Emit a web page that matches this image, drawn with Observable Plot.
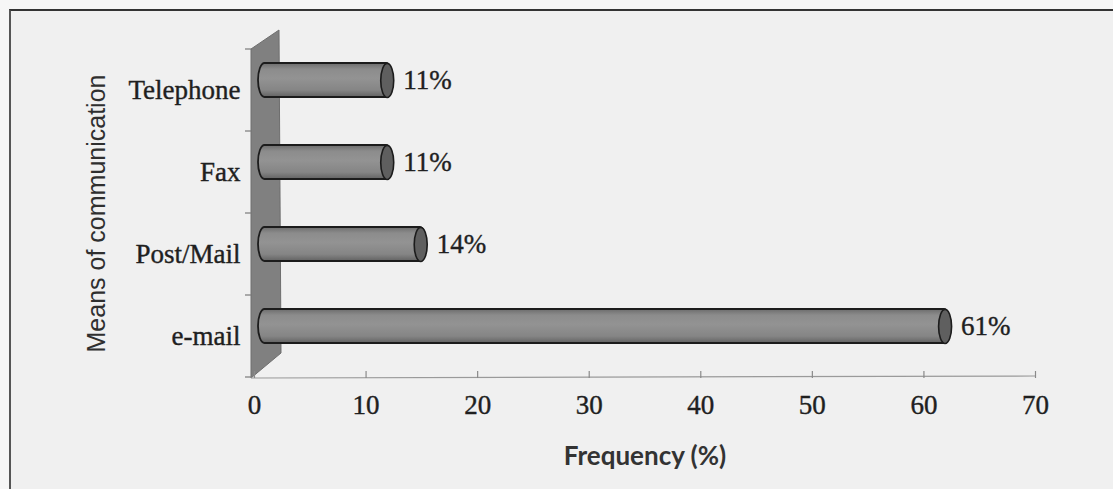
<!DOCTYPE html>
<html>
<head>
<meta charset="utf-8">
<script src="https://cdn.jsdelivr.net/npm/d3@7"></script>
<script src="https://cdn.jsdelivr.net/npm/@observablehq/plot@0.6"></script>
<style>
  html, body { margin: 0; padding: 0; background: #f6f6f6; }
  #wrap { position: relative; width: 1113px; height: 489px; overflow: hidden; background: #f6f6f6; }
  #border { position: absolute; left: 9px; top: 9px; width: 1200px; height: 600px;
            border-top: 2px solid #333; border-left: 2px solid #555; background: #f0f0f0; }
  #chart { position: absolute; left: 0; top: 0; }
</style>
</head>
<body>
<div id="wrap">
  <div id="border"></div>
  <div id="chart"></div>
</div>
<script>
// Means of communication and their share of responses (%)
const means = ["Telephone", "Fax", "Post/Mail", "e-mail"];
const shares = [11, 11, 14, 61];
const xTicks = [0, 10, 20, 30, 40, 50, 60, 70];
const xTitle = "Frequency (%)";
const yTitle = "Means of communication";

const rows = means.map((m, i) => ({means: m, share: shares[i]}));

// Elliptical end face of a cylinder, drawn with Bézier arcs
const capSymbol = {
  draw(ctx) {
    const rx = 6.5, ry = 17, k = 0.5523;
    ctx.moveTo(rx, 0);
    ctx.bezierCurveTo(rx, ry * k, rx * k, ry, 0, ry);
    ctx.bezierCurveTo(-rx * k, ry, -rx, ry * k, -rx, 0);
    ctx.bezierCurveTo(-rx, -ry * k, -rx * k, -ry, 0, -ry);
    ctx.bezierCurveTo(rx * k, -ry, rx, -ry * k, rx, 0);
    ctx.closePath();
  }
};

// Shading of the cylinder bodies
function gradients() {
  const defs = d3.create("svg:defs");
  const g = defs.append("linearGradient").attr("id", "cyl")
    .attr("x1", 0).attr("y1", 0).attr("x2", 0).attr("y2", 1);
  [[0, "#6c6c6c"], [0.18, "#8c8c8c"], [0.45, "#939393"], [0.8, "#858585"], [1, "#626262"]]
    .forEach(([o, c]) => g.append("stop").attr("offset", o).attr("stop-color", c));
  return defs.node();
}

// Back wall of the 3-D plot area, category ticks and the floor edge
function wall(index, scales, values, dims) {
  const x = scales.x, y = scales.y;
  const x0 = x(0);
  const top = dims.marginTop, bottom = dims.height - dims.marginBottom;
  const g = d3.create("svg:g");
  g.append("path")
    .attr("d", `M${x0 - 3},${top}L${x0 + 25},${top - 19}L${x0 + 27},${bottom - 24}L${x0 - 3},${bottom + 1}Z`)
    .attr("fill", "#808080").attr("stroke", "#6e6e6e");
  g.append("line")
    .attr("x1", x0 - 3).attr("x2", x(70)).attr("y1", bottom + 1).attr("y2", bottom - 1)
    .attr("stroke", "#9a9a9a").attr("stroke-width", 1.2);
  const bw = y.bandwidth ? y.bandwidth() : (bottom - top) / means.length;
  const edges = means.map(m => y(m)).concat([y(means[means.length - 1]) + bw]);
  edges.forEach(e => g.append("line")
    .attr("x1", x0 - 9).attr("x2", x0 - 3).attr("y1", e).attr("y2", e)
    .attr("stroke", "#7a7a7a").attr("stroke-width", 1.2));
  return g.node();
}

const serif = "Liberation Serif, Times New Roman, serif";
const ink = "#1f1f1f";

const chart = Plot.plot({
  width: 1113,
  height: 489,
  marginLeft: 254,
  marginRight: 78,
  marginTop: 49,
  marginBottom: 112,
  style: {background: "transparent", overflow: "visible"},
  x: {domain: [0, 70], axis: null},
  y: {domain: means, axis: null, padding: 0},
  marks: [
    gradients,
    wall,
    Plot.tickX(xTicks, {x: d => d, insetTop: 322, insetBottom: -1, stroke: "#8a8a8a", strokeWidth: 1.2}),
    Plot.barX(rows, {
      x: "share", y: "means", dx: 4, dy: -10,
      insetRight: -12, insetTop: 24, insetBottom: 24, rx: 6.5, ry: 17,
      fill: "url(#cyl)", stroke: "#1c1c1c", strokeWidth: 1.8
    }),
    Plot.dot(rows, {
      x: "share", y: "means", dx: 10, dy: -10, r: 5, symbol: capSymbol,
      fill: "#5f5f5f", stroke: "#1c1c1c", strokeWidth: 1.6
    }),
    Plot.text(rows, {
      x: "share", y: "means", text: d => `${d.share}%`, dx: 26, dy: -10,
      textAnchor: "start", fontSize: 27, fontFamily: serif, fill: ink,
      stroke: ink, strokeWidth: 0.4
    }),
    Plot.text(means, {
      y: d => d, text: d => d, frameAnchor: "left", dx: -14, textAnchor: "end",
      fontSize: 27, fontFamily: serif, fill: ink, stroke: ink, strokeWidth: 0.4
    }),
    Plot.text(xTicks, {
      x: d => d, text: d => String(d), frameAnchor: "bottom", dy: 36,
      fontSize: 27, fontFamily: serif, fill: ink, stroke: ink, strokeWidth: 0.4
    }),
    Plot.text([xTitle], {
      x: () => 35, text: d => d, frameAnchor: "bottom", dy: 87,
      fontSize: 26, fontWeight: "bold", fontFamily: "Lato, Open Sans, sans-serif", fill: "#333"
    }),
    Plot.text([yTitle], {
      text: d => d, frameAnchor: "left", textAnchor: "middle", dx: -158, rotate: -90,
      fontSize: 25, fontFamily: "Liberation Sans, Arial, sans-serif", fill: "#2f2f2f"
    })
  ]
});

document.getElementById("chart").appendChild(chart);
</script>
</body>
</html>
